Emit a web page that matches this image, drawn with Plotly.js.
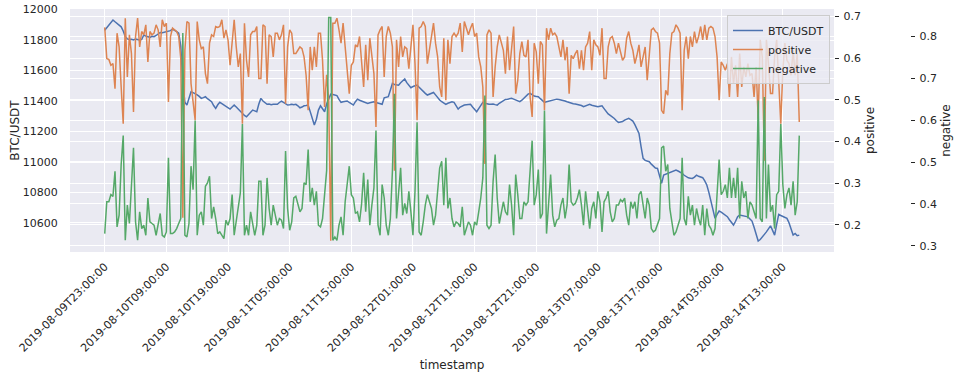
<!DOCTYPE html>
<html><head><meta charset="utf-8">
<script src="https://cdn.plot.ly/plotly-3.0.1.min.js"></script>
<style>html,body{margin:0;padding:0;background:#fff}#chart{width:961px;height:378px}</style>
</head><body><div id="chart"></div>
<script>
// 20-minute samples starting at this timestamp
const startTime = '2019-08-09T23:00:00';
const stepMinutes = 20;

const btc = [
11865,11880,11900,11915,11932,11920,11910,11900,11887,11860,
11822,11808,11803,11805,11800,11806,11802,11800,11804,11833,
11826,11822,11818,11825,11822,11830,11840,11850,11848,11852,
11856,11855,11862,11872,11866,11855,11845,11760,11520,11392,
11373,11420,11460,11455,11450,11440,11430,11417,11422,11428,
11415,11405,11395,11370,11351,11375,11391,11382,11373,11360,
11355,11347,11360,11373,11360,11345,11334,11320,11305,11296,
11310,11325,11340,11335,11329,11380,11417,11400,11388,11378,
11380,11376,11378,11380,11378,11390,11399,11390,11380,11373,
11375,11378,11376,11378,11368,11355,11360,11368,11370,11373,
11330,11286,11242,11280,11340,11368,11350,11329,11380,11420,
11445,11442,11438,11435,11410,11391,11395,11398,11400,11390,
11382,11373,11395,11412,11405,11400,11395,11390,11384,11388,11392,
11395,11390,11385,11380,11378,11421,11425,11428,11470,11515,
11508,11504,11504,11520,11530,11544,11520,11500,11487,11495,
11500,11504,11490,11475,11460,11450,11439,11445,11450,11456,
11440,11420,11406,11395,11385,11378,11385,11390,11395,11391,
11370,11347,11360,11368,11373,11375,11378,11378,11360,11345,
11329,11350,11375,11391,11385,11380,11378,11378,11380,11376,
11373,11385,11395,11406,11410,11412,11415,11417,11412,11405,
11400,11395,11405,11420,11435,11445,11450,11440,11432,11430,
11428,11415,11400,11391,11395,11398,11400,11405,11410,11412,
11410,11408,11406,11400,11395,11390,11384,11382,11380,11378,
11375,11370,11362,11368,11375,11378,11372,11368,11365,11362,
11365,11368,11350,11329,11315,11305,11296,11285,11270,11259,11262,
11265,11274,11280,11286,11278,11268,11245,11215,11187,11100,
11023,11010,11005,11001,10985,10970,10960,10957,10900,10859,
10913,10918,10924,10930,10935,10940,10946,10940,10935,10925,
10912,10902,10895,10893,10891,10900,10913,10905,10898,10896,
10875,10848,10800,10738,10680,10629,10655,10677,10670,10660,
10651,10640,10620,10600,10585,10610,10640,10651,10648,10645,
10640,10639,10625,10611,10570,10520,10480,10490,10505,10519,
10540,10560,10580,10550,10519,10590,10655,10648,10640,10635,
10629,10600,10560,10519,10530,10515,10519
];

const positive = [
0.674,0.599,0.597,0.583,0.587,0.527,0.660,0.627,0.531,0.443,
0.696,0.555,0.656,0.611,0.471,0.652,0.696,0.627,0.664,0.656,
0.680,0.591,0.664,0.656,0.660,0.680,0.668,0.627,0.692,0.676,
0.684,0.495,0.652,0.672,0.668,0.664,0.652,0.600,0.217,0.619,
0.688,0.684,0.539,0.499,0.451,0.688,0.644,0.623,0.627,0.563,
0.539,0.636,0.656,0.652,0.676,0.674,0.676,0.692,0.648,0.668,
0.644,0.583,0.644,0.692,0.627,0.579,0.611,0.443,0.684,0.595,
0.555,0.656,0.664,0.664,0.676,0.551,0.551,0.680,0.676,0.539,
0.656,0.652,0.603,0.660,0.660,0.644,0.656,0.680,0.491,0.627,
0.668,0.660,0.611,0.611,0.619,0.627,0.623,0.603,0.559,0.475,
0.627,0.571,0.627,0.579,0.660,0.660,0.595,0.483,0.560,0.500,
0.162,0.684,0.684,0.696,0.668,0.636,0.684,0.627,0.555,0.515,
0.583,0.591,0.632,0.627,0.652,0.590,0.531,0.632,0.547,0.648,0.603,
0.563,0.435,0.656,0.668,0.676,0.555,0.652,0.676,0.660,0.627,
0.330,0.644,0.579,0.652,0.603,0.627,0.623,0.575,0.627,0.680,
0.587,0.451,0.672,0.676,0.688,0.676,0.587,0.619,0.644,0.684,
0.636,0.603,0.531,0.507,0.648,0.499,0.644,0.587,0.652,0.660,
0.652,0.660,0.684,0.615,0.688,0.672,0.656,0.672,0.684,0.652,
0.660,0.603,0.579,0.531,0.346,0.656,0.668,0.660,0.507,0.579,
0.627,0.656,0.636,0.619,0.563,0.652,0.571,0.627,0.676,0.515,
0.547,0.611,0.640,0.607,0.603,0.644,0.507,0.459,0.636,0.615,
0.539,0.640,0.632,0.475,0.672,0.644,0.672,0.656,0.660,0.652,
0.627,0.603,0.644,0.595,0.627,0.515,0.607,0.599,0.611,0.619,
0.575,0.619,0.571,0.627,0.636,0.664,0.571,0.644,0.632,0.627,
0.607,0.672,0.551,0.551,0.627,0.648,0.652,0.636,0.611,0.636,0.615,
0.595,0.603,0.648,0.664,0.636,0.619,0.587,0.607,0.632,0.579,
0.607,0.627,0.547,0.603,0.668,0.672,0.664,0.660,0.636,0.475,
0.467,0.523,0.511,0.611,0.660,0.664,0.680,0.672,0.660,0.475,
0.619,0.652,0.599,0.652,0.627,0.664,0.636,0.652,0.676,0.644,
0.680,0.644,0.672,0.676,0.672,0.652,0.603,0.499,0.591,0.583,
0.571,0.587,0.507,0.603,0.539,0.583,0.507,0.611,0.531,0.579,
0.555,0.587,0.559,0.563,0.507,0.579,0.455,0.644,0.603,0.354,
0.644,0.587,0.515,0.515,0.603,0.644,0.539,0.443,0.571,0.636,
0.595,0.587,0.559,0.619,0.559,0.611,0.447
];

const negative = [
0.329,0.405,0.405,0.422,0.418,0.478,0.345,0.373,0.494,0.563,
0.313,0.397,0.353,0.430,0.534,0.357,0.313,0.381,0.341,0.349,
0.325,0.414,0.357,0.353,0.349,0.325,0.349,0.377,0.325,0.321,
0.333,0.510,0.329,0.329,0.333,0.341,0.353,0.365,0.808,0.325,
0.321,0.353,0.490,0.434,0.599,0.325,0.373,0.381,0.349,0.442,
0.450,0.466,0.365,0.393,0.365,0.329,0.333,0.325,0.317,0.361,
0.349,0.365,0.422,0.325,0.357,0.397,0.426,0.591,0.325,0.349,
0.325,0.381,0.357,0.325,0.349,0.454,0.454,0.325,0.349,0.462,
0.389,0.349,0.397,0.373,0.349,0.365,0.361,0.341,0.526,0.389,
0.337,0.357,0.414,0.418,0.397,0.381,0.389,0.450,0.446,0.530,
0.405,0.438,0.397,0.430,0.349,0.345,0.365,0.430,0.480,0.845,
0.845,0.313,0.321,0.313,0.349,0.369,0.325,0.405,0.454,0.490,
0.422,0.414,0.377,0.381,0.357,0.400,0.474,0.381,0.458,0.349,0.397,
0.438,0.575,0.349,0.325,0.446,0.414,0.349,0.325,0.365,0.478,
0.663,0.365,0.422,0.486,0.373,0.401,0.377,0.430,0.381,0.325,
0.430,0.595,0.333,0.325,0.357,0.397,0.422,0.405,0.389,0.349,
0.373,0.430,0.486,0.502,0.397,0.510,0.389,0.414,0.365,0.345,
0.357,0.353,0.345,0.393,0.325,0.341,0.357,0.349,0.325,0.357,
0.349,0.381,0.414,0.462,0.659,0.349,0.341,0.349,0.454,0.518,
0.414,0.353,0.381,0.405,0.381,0.373,0.446,0.397,0.325,0.470,
0.422,0.365,0.365,0.405,0.397,0.405,0.478,0.551,0.397,0.422,
0.482,0.365,0.377,0.623,0.329,0.389,0.470,0.373,0.345,0.361,
0.365,0.397,0.414,0.365,0.397,0.494,0.405,0.397,0.401,0.414,
0.434,0.397,0.349,0.430,0.381,0.341,0.389,0.405,0.365,0.430,
0.405,0.333,0.405,0.414,0.430,0.381,0.357,0.365,0.397,0.397,0.410,
0.405,0.414,0.373,0.349,0.405,0.389,0.405,0.365,0.422,0.430,
0.397,0.365,0.414,0.397,0.341,0.333,0.337,0.349,0.365,0.534,
0.538,0.478,0.494,0.389,0.357,0.325,0.333,0.349,0.365,0.510,
0.365,0.349,0.418,0.373,0.397,0.349,0.389,0.365,0.349,0.397,
0.325,0.389,0.349,0.341,0.325,0.341,0.430,0.506,0.422,0.430,
0.446,0.414,0.486,0.414,0.462,0.414,0.486,0.365,0.454,0.414,
0.430,0.365,0.405,0.397,0.381,0.365,0.647,0.365,0.357,0.655,
0.365,0.494,0.381,0.397,0.341,0.422,0.430,0.591,0.446,0.389,
0.422,0.438,0.397,0.454,0.373,0.405,0.563
];

const tickLabels = [
'2019-08-09T23:00:00','2019-08-10T09:00:00','2019-08-10T19:00:00',
'2019-08-11T05:00:00','2019-08-11T15:00:00','2019-08-12T01:00:00',
'2019-08-12T11:00:00','2019-08-12T21:00:00','2019-08-13T07:00:00',
'2019-08-13T17:00:00','2019-08-14T03:00:00','2019-08-14T13:00:00'
];
const btcTicks = [10600,10800,11000,11200,11400,11600,11800,12000];
const posTicks = [0.2,0.3,0.4,0.5,0.6,0.7];
const negTicks = [0.3,0.4,0.5,0.6,0.7,0.8];

const t0 = Date.parse(startTime + 'Z');
const timestamps = btc.map((_, k) => new Date(t0 + k * stepMinutes * 60000).toISOString().slice(0, 19));

const FONT = 'DejaVu Sans, Verdana, sans-serif';
const TXT = '#262626';
const domainEnd = 764 / 840;

const traces = [
  {x: timestamps, y: btc, name: 'BTC/USDT', type: 'scatter', mode: 'lines',
   line: {color: '#4C72B0', width: 1.5}, xaxis: 'x', yaxis: 'y'},
  {x: timestamps, y: positive, name: 'positive', type: 'scatter', mode: 'lines',
   line: {color: '#DD8452', width: 1.5}, xaxis: 'x', yaxis: 'y2'},
  {x: timestamps, y: negative, name: 'negative', type: 'scatter', mode: 'lines',
   line: {color: '#55A868', width: 1.5}, xaxis: 'x', yaxis: 'y3'}
];

const n = btc.length;
const pad = (n - 1) * 0.05;

const layout = {
  width: 961, height: 378,
  margin: {l: 70, r: 51, t: 9, b: 126, pad: 0},
  paper_bgcolor: '#ffffff',
  plot_bgcolor: '#EAEAF2',
  font: {family: FONT, size: 11, color: TXT},
  showlegend: true,
  legend: {
    x: (830 - 70) / 840, xanchor: 'right', y: 1 - (15 - 9) / 243, yanchor: 'top',
    bgcolor: 'rgba(234,234,242,0.8)', bordercolor: '#cccccc', borderwidth: 1,
    font: {family: FONT, size: 11, color: TXT}, itemwidth: 30
  },
  xaxis: {
    type: 'category', domain: [0, domainEnd],
    range: [-pad, (n - 1) + pad],
    tickmode: 'array', tickvals: tickLabels, ticktext: tickLabels,
    tickangle: -45, ticks: 'outside', ticklen: 3, tickcolor: 'rgba(0,0,0,0)',
    showgrid: true, gridcolor: '#ffffff', gridwidth: 1,
    zeroline: false, showline: false,
    tickfont: {family: FONT, size: 11, color: TXT},
    title: {text: 'timestamp', font: {family: FONT, size: 12, color: TXT}, standoff: 6}
  },
  yaxis: {
    range: [10408, 12004],
    tickmode: 'array', tickvals: btcTicks, ticktext: btcTicks.map(v => String(v)),
    ticks: 'outside', ticklen: 9, tickcolor: 'rgba(0,0,0,0)',
    showgrid: true, gridcolor: '#ffffff', gridwidth: 1,
    zeroline: false, showline: false,
    tickfont: {family: FONT, size: 11, color: TXT},
    title: {text: 'BTC/USDT', font: {family: FONT, size: 12, color: TXT}, standoff: 0}
  },
  yaxis2: {
    overlaying: 'y', side: 'right', anchor: 'x',
    range: [0.135, 0.718],
    tickmode: 'array', tickvals: posTicks, ticktext: posTicks.map(v => '\u2009' + v.toFixed(1)),
    ticks: 'outside', ticklen: 4, tickcolor: TXT, tickwidth: 1,
    showgrid: true, gridcolor: '#ffffff', gridwidth: 1,
    zeroline: false, showline: false,
    tickfont: {family: FONT, size: 11, color: TXT},
    title: {text: 'positive', font: {family: FONT, size: 12, color: TXT}, standoff: 5}
  },
  yaxis3: {
    overlaying: 'y', side: 'right', anchor: 'free', position: 1.0,
    range: [0.285, 0.8655],
    tickmode: 'array', tickvals: negTicks, ticktext: negTicks.map(v => '\u2009' + v.toFixed(1)),
    ticks: 'outside', ticklen: 4, tickcolor: TXT, tickwidth: 1,
    showgrid: true, gridcolor: '#ffffff', gridwidth: 1,
    zeroline: false, showline: false,
    tickfont: {family: FONT, size: 11, color: TXT},
    title: {text: 'negative', font: {family: FONT, size: 12, color: TXT}, standoff: 5}
  }
};

Plotly.newPlot('chart', traces, layout, {staticPlot: true, displayModeBar: false});
</script>
</body></html>
